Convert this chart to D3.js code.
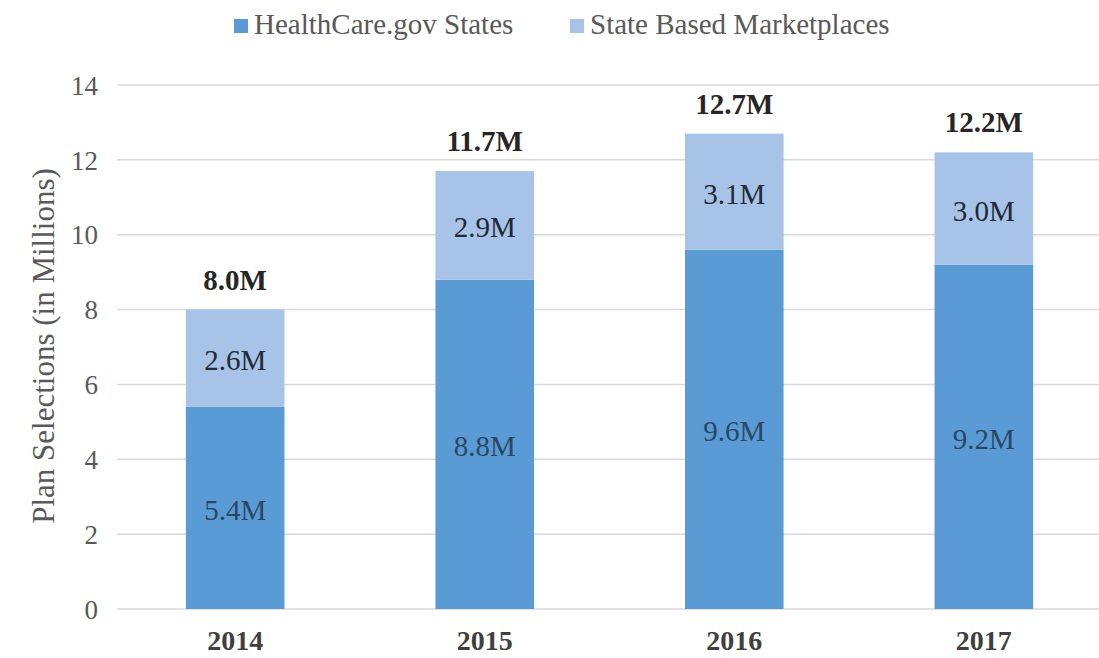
<!DOCTYPE html>
<html>
<head>
<meta charset="utf-8">
<script src="https://cdn.jsdelivr.net/npm/d3@7"></script>
<style>
  body { margin: 0; background: #fff; }
  svg { display: block; }
</style>
</head>
<body>
<div id="chart"></div>
<script>
// data
const years = ['2014', '2015', '2016', '2017'];
const healthcareGov = [5.4, 8.8, 9.6, 9.2];
const stateBased = [2.6, 2.9, 3.1, 3.0];
const totals = [8.0, 11.7, 12.7, 12.2];
const seriesNames = ['HealthCare.gov States', 'State Based Marketplaces'];
const yTicks = [0, 2, 4, 6, 8, 10, 12, 14];

const width = 1099, height = 658;
const colors = ['#5b9bd5', '#a7c3e7'];
const font = '"Liberation Serif"';

const svg = d3.select('#chart').append('svg')
  .attr('width', width)
  .attr('height', height);

const x = d3.scaleBand()
  .domain(years)
  .range([111, 1108])
  .paddingInner(0.605)
  .paddingOuter(0.3);

const y = d3.scaleLinear()
  .domain([0, 14])
  .range([609, 85]);

// gridlines
svg.append('g')
  .selectAll('line')
  .data(yTicks)
  .enter()
  .append('line')
  .attr('x1', 117)
  .attr('x2', width)
  .attr('y1', d => y(d))
  .attr('y2', d => y(d))
  .attr('stroke', '#d9d9d9')
  .attr('stroke-width', 1.5);

// y axis tick labels
const yAxis = svg.append('g')
  .attr('transform', 'translate(98,0)')
  .call(d3.axisLeft(y).tickValues(yTicks).tickSize(0).tickPadding(0));
yAxis.select('.domain').remove();
yAxis.selectAll('text')
  .attr('dy', '0.34em')
  .style('font-family', font)
  .style('font-size', '27px')
  .style('fill', '#595959');

// x axis labels
const xAxis = svg.append('g')
  .attr('transform', 'translate(0,650)')
  .call(d3.axisBottom(x).tickSize(0).tickPadding(0));
xAxis.select('.domain').remove();
xAxis.selectAll('text')
  .attr('dy', 0)
  .style('font-family', font)
  .style('font-size', '28px')
  .style('font-weight', 'bold')
  .style('fill', '#404040');

// stacked bars
const rows = years.map((yr, i) => ({ year: yr, hc: healthcareGov[i], sb: stateBased[i], total: totals[i] }));
const stack = d3.stack().keys(['hc', 'sb']);
const layers = stack(rows);

const layerG = svg.selectAll('.layer')
  .data(layers)
  .enter()
  .append('g')
  .attr('fill', (d, i) => colors[i]);

layerG.selectAll('rect')
  .data(d => d)
  .enter()
  .append('rect')
  .attr('x', d => x(d.data.year))
  .attr('width', x.bandwidth())
  .attr('y', d => y(d[1]))
  .attr('height', d => y(d[0]) - y(d[1]));

// segment labels
layerG.selectAll('text')
  .data(d => d.map(s => ({ s, key: d.key })))
  .enter()
  .append('text')
  .attr('x', d => x(d.s.data.year) + x.bandwidth() / 2)
  .attr('y', d => y((d.s[0] + d.s[1]) / 2) + 12)
  .attr('text-anchor', 'middle')
  .style('font-family', font)
  .style('font-size', '29px')
  .style('fill', d => d.key === 'hc' ? '#2a4865' : '#222a36')
  .text(d => d3.format('.1f')(d.s.data[d.key]) + 'M');

// totals
svg.selectAll('.total')
  .data(rows)
  .enter()
  .append('text')
  .attr('class', 'total')
  .attr('x', d => x(d.year) + x.bandwidth() / 2)
  .attr('y', d => y(d.total) - 20)
  .attr('text-anchor', 'middle')
  .style('font-family', font)
  .style('font-size', '29px')
  .style('font-weight', 'bold')
  .style('fill', '#262626')
  .text(d => d3.format('.1f')(d.total) + 'M');

// y axis title
svg.append('text')
  .attr('transform', 'translate(54,346) rotate(-90)')
  .attr('text-anchor', 'middle')
  .style('font-family', font)
  .style('font-size', '31px')
  .style('fill', '#595959')
  .text('Plan Selections (in Millions)');

// legend
const legendX = [234, 570];
const legend = svg.selectAll('.legend')
  .data(seriesNames)
  .enter()
  .append('g')
  .attr('transform', (d, i) => `translate(${legendX[i]},0)`);
legend.append('rect')
  .attr('width', 14)
  .attr('height', 14)
  .attr('y', 19)
  .attr('fill', (d, i) => colors[i]);
legend.append('text')
  .attr('x', 20)
  .attr('y', 34)
  .style('font-family', font)
  .style('font-size', '29px')
  .style('fill', '#595959')
  .text(d => d);
</script>
</body>
</html>
